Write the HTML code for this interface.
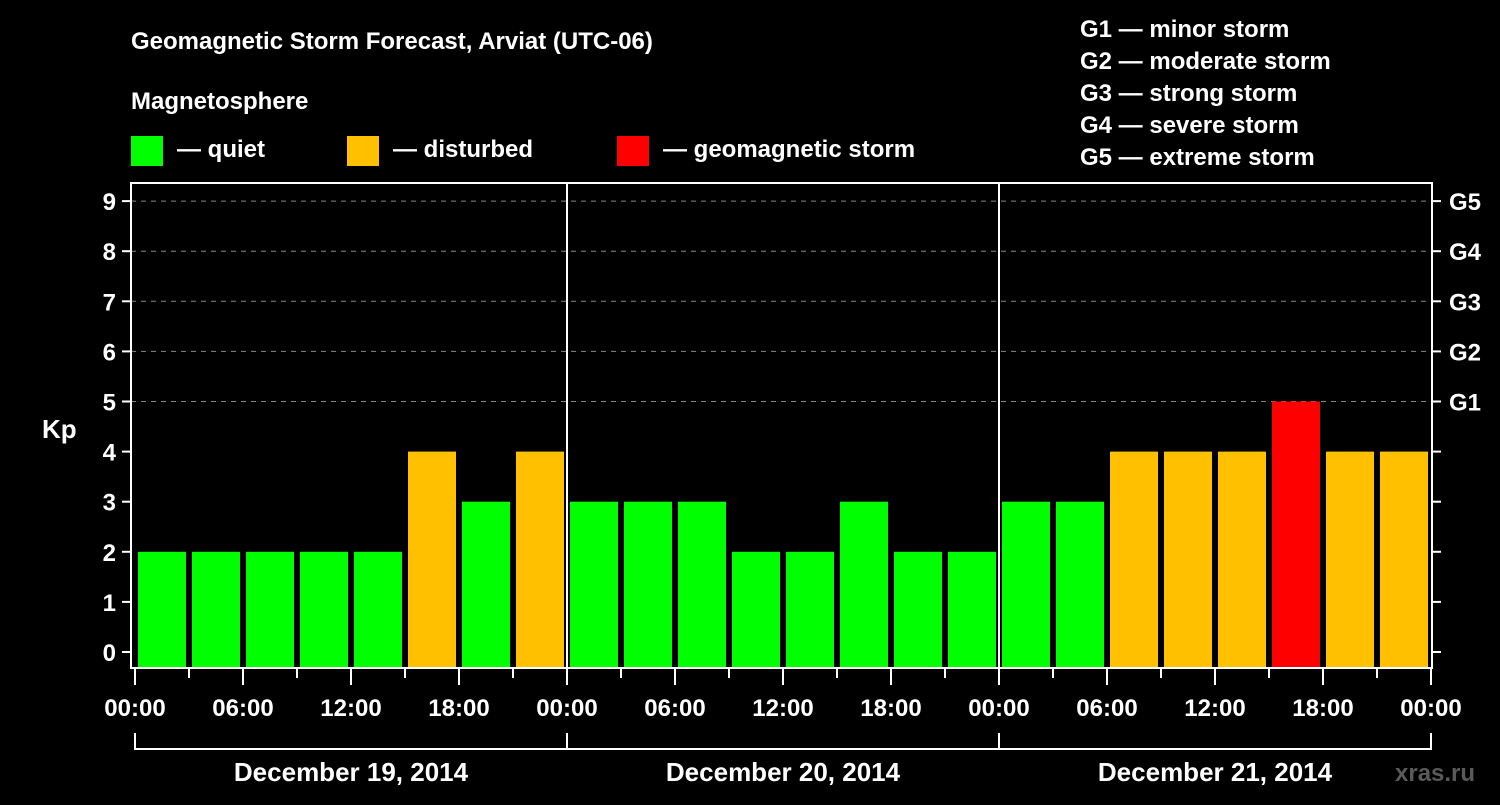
<!DOCTYPE html>
<html><head><meta charset="utf-8"><style>
body{margin:0;background:#000;width:1500px;height:800px;overflow:hidden}
svg text{font-family:"Liberation Sans",Arial,sans-serif;font-weight:bold;fill:#fff}
</style></head><body>
<svg id="c" width="1500" height="800">
<text x="131" y="49" font-size="24">Geomagnetic Storm Forecast, Arviat (UTC-06)</text>
<text x="131" y="109" font-size="24">Magnetosphere</text>
<g><rect x="131" y="136" width="32" height="30" fill="#00ff00"/><text x="177" y="157" font-size="24">— quiet</text></g>
<g><rect x="347" y="136" width="32" height="30" fill="#ffc000"/><text x="393" y="157" font-size="24">— disturbed</text></g>
<g><rect x="617" y="136" width="32" height="30" fill="#ff0000"/><text x="663" y="157" font-size="24">— geomagnetic storm</text></g>
<g font-size="24">
<text x="1080" y="37">G1 — minor storm</text><text x="1080" y="69">G2 — moderate storm</text><text x="1080" y="101">G3 — strong storm</text><text x="1080" y="133">G4 — severe storm</text><text x="1080" y="165">G5 — extreme storm</text></g>
<text x="42" y="438" font-size="26">Kp</text>
<text x="1395" y="781" font-size="24" fill="#555" style="fill:#5a5a5a">xras.ru</text>
<g id="g"></g>
</svg>
<script>
const kpValues=[2,2,2,2,2,4,3,4, 3,3,3,2,2,3,2,2, 3,3,4,4,4,5,4,4];
const dayLabels=["December 19, 2014","December 20, 2014","December 21, 2014"];
const timeLabels=["00:00","06:00","12:00","18:00"];
const gLabels=["G1","G2","G3","G4","G5"];
const yTicks=[0,1,2,3,4,5,6,7,8,9];
const NS="http://www.w3.org/2000/svg",g=document.getElementById('g');
const X0=135,SLOT=54,Y0=652,UNIT=50.1,TOP=183,BOT=668,RIGHT=1431;
const xs=i=>X0+i*SLOT, ys=v=>Y0-v*UNIT;
function mk(t,a,p){const e=document.createElementNS(NS,t);for(const k in a)e.setAttribute(k,a[k]);(p||g).appendChild(e);return e;}
yTicks.forEach(v=>{
 if(v>=5){const l=mk('line',{x1:131,x2:RIGHT,y1:ys(v),y2:ys(v),stroke:'#888','stroke-dasharray':'5,5'});
 
 }
 const t=mk('line',{x1:122,x2:131,y1:ys(v),y2:ys(v),stroke:'#fff','stroke-width':2});
 
 
 const r=mk('line',{x1:RIGHT,x2:1441,y1:ys(v),y2:ys(v),stroke:'#fff','stroke-width':2});
 
 
 const tx=mk('text',{x:116,y:ys(v)+9,'font-size':24,'text-anchor':'end'});tx.textContent=v;
 
 
});
gLabels.forEach((s,i)=>{const tx=mk('text',{x:1449,y:ys(i+5)+9,'font-size':24});tx.textContent=s;
 
 });
kpValues.forEach((v,i)=>{
 const c=v>=5?'#ff0000':v>=4?'#ffc000':'#00ff00';
 const b=mk('rect',{x:xs(i)+3,y:ys(v),width:48,height:BOT-ys(v),fill:c});
 
 
});
const frame=mk('path',{d:`M131 ${TOP}H${RIGHT+1}V${BOT}H131Z`,fill:'none',stroke:'#fff','stroke-width':2});


for(let d=1;d<3;d++){const l=mk('line',{x1:xs(d*8),x2:xs(d*8),y1:TOP,y2:BOT,stroke:'#fff','stroke-width':2});
 
 }
for(let i=0;i<=24;i++){
 const maj=i%2==0;
 const t=mk('line',{x1:xs(i),x2:xs(i),y1:BOT,y2:maj?685:678,stroke:'#fff','stroke-width':2});
 
 
 if(maj){const tx=mk('text',{x:xs(i),y:716,'font-size':24,'text-anchor':'middle'});tx.textContent=timeLabels[(i/2)%4];
 
 }
}
dayLabels.forEach((s,d)=>{
 const p=mk('path',{d:`M${xs(d*8)} 733V749H${xs(d*8+8)}V733`,fill:'none',stroke:'#fff','stroke-width':2});
 
 
 const tx=mk('text',{x:xs(d*8+4),y:781,'font-size':26,'text-anchor':'middle'});tx.textContent=s;
 
 
});
</script>
</body></html>
